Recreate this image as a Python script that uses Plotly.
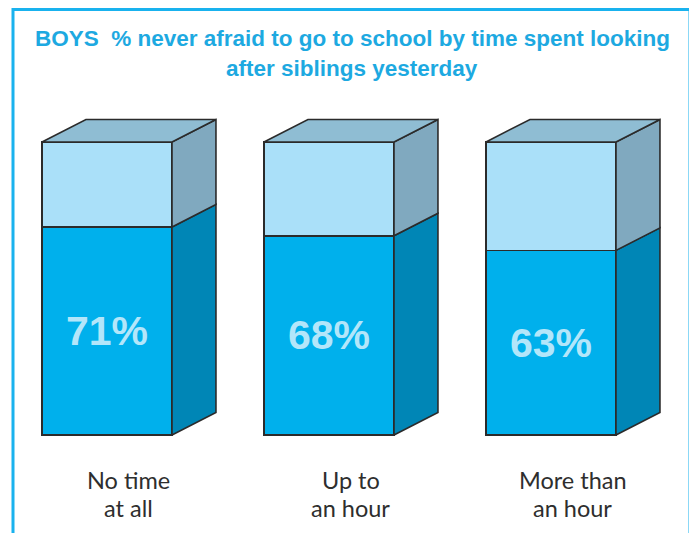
import plotly.graph_objects as go

# data
categories = ["No time<br>at all", "Up to<br>an hour", "More than<br>an hour"]
pct_never_afraid = [71, 68, 63]
total = 100

# colours
CYAN = "#1DA9E1"
FRONT_LOW = "#00B0EC"
FRONT_HIGH = "#AAE0F9"
SIDE_LOW = "#0086B6"
SIDE_HIGH = "#80A9BF"
TOP = "#8FBDD3"
EDGE = "#2B2B2B"

W, H = 689, 525  # page body keeps an 8px margin
BAR_W = 0.5856
DX = 0.198   # depth offset in x units
DY = 7.7     # depth offset in y units
PX_PER_Y = 2.93

xs = list(range(len(categories)))
rest = [total - v for v in pct_never_afraid]

fig = go.Figure()

# front faces, stacked
fig.add_trace(go.Bar(x=xs, y=pct_never_afraid, width=BAR_W,
                     marker=dict(color=FRONT_LOW, line=dict(color=EDGE, width=1.6)),
                     hoverinfo="skip"))
fig.add_trace(go.Bar(x=xs, y=rest, width=BAR_W,
                     marker=dict(color=FRONT_HIGH, line=dict(color=EDGE, width=1.6)),
                     hoverinfo="skip"))


def face(px, py, color):
    fig.add_trace(go.Scatter(x=px + [px[0]], y=py + [py[0]], mode="lines",
                             fill="toself", fillcolor=color,
                             line=dict(color=EDGE, width=1.6),
                             hoverinfo="skip", showlegend=False))


# side and top faces built from the same values
for x, v in zip(xs, pct_never_afraid):
    l, r = x - BAR_W / 2, x + BAR_W / 2
    face([r, r + DX, r + DX, r], [0, DY, v + DY, v], SIDE_LOW)
    face([r, r + DX, r + DX, r], [v, v + DY, total + DY, total], SIDE_HIGH)
    face([l, l + DX, r + DX, r], [total, total + DY, total + DY, total], TOP)

annotations = []
for x, v in zip(xs, pct_never_afraid):
    annotations.append(dict(x=x, y=v / 2, text=f"<b>{v}%</b>", showarrow=False,
                            font=dict(family="Liberation Sans, Arial", size=41, color="#B3E6FA")))
# category labels sit under the whole box, depth included
for x, c in zip(xs, categories):
    for k, line in enumerate(c.split("<br>")):
        annotations.append(dict(x=x + DX / 2, y=-(45 + 28 * k) / PX_PER_Y, text=line,
                                showarrow=False,
                                font=dict(family="Lato, Liberation Sans", size=23.5, color="#2E2E2E")))

title_lines = ["BOYS  % never afraid to go to school by time spent looking",
               "after siblings yesterday"]
for k, t in enumerate(title_lines):
    annotations.append(dict(xref="paper", yref="paper", x=0.4995, y=1 - (30 + 30 * k) / H,
                            text=f"<b>{t}</b>", showarrow=False, yanchor="middle",
                            font=dict(family="Liberation Sans, Arial", size=22.5, color=CYAN)))

fig.update_layout(
    width=W, height=H,
    margin=dict(l=0, r=0, t=0, b=0),
    paper_bgcolor="white", plot_bgcolor="white",
    barmode="stack", showlegend=False,
    xaxis=dict(range=[-99 / 222, (W - 99) / 222], visible=False, fixedrange=True),
    yaxis=dict(range=[-(H - 427) / PX_PER_Y, 427 / PX_PER_Y], visible=False, fixedrange=True),
    annotations=annotations,
    shapes=[dict(type="rect", xref="paper", yref="paper",
                 x0=5 / W, x1=682 / W, y0=-0.05, y1=1 - 1.5 / H,
                 line=dict(color="#19B2EE", width=3))],
)

fig.write_html("out.html")
